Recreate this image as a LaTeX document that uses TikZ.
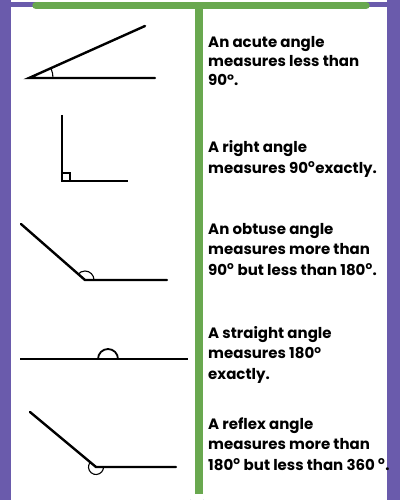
\documentclass[tikz,border=0pt]{standalone}
\usepackage{fontspec}
\setmainfont{Poppins}
\definecolor{purp}{HTML}{6A5BAC}
\definecolor{grn}{HTML}{69A84F}
\newcommand\sdeg{\textsuperscript{o}}
\begin{document}
\begin{tikzpicture}[x=1pt,y=-1pt,
  ray/.style={line width=2.4pt,line cap=round},
  thinray/.style={line width=1.8pt},
  anglemark/.style={line width=1.1pt},
  desc/.style={anchor=base west,align=left,inner sep=0pt,
    font=\bfseries\fontsize{15}{20.5}\selectfont}]
\useasboundingbox (0,0) rectangle (400,500);
\fill[white] (0,0) rectangle (400,500);
% frame
\fill[purp] (0,0) rectangle (11,500);
\fill[purp] (387,0) rectangle (400,500);
\fill[purp] (11,2.5) rectangle (387,7);
\draw[grn,line width=7.5pt,line cap=round] (36,5.5) -- (366,5.5);
\fill[grn] (195,5) rectangle (203,494);
\draw[purp,line width=1.5pt] (190,500) arc[start angle=180,end angle=0,x radius=7,y radius=4];
% acute
\coordinate (a0) at (29,78);
\coordinate (a1) at (155,78);
\coordinate (a2) at (145,26);
\draw[ray] (a1) -- (a0) -- (a2);
\draw[anglemark] ([xshift=24pt]a0) arc[start angle=0,end angle=-22.5,radius=24];
% right
\coordinate (r0) at (62,181);
\coordinate (r1) at (128,181);
\coordinate (r2) at (62,115);
\draw[thinray] (r2) -- (r0) -- (r1);
\draw[anglemark] (r0) ++(0,-8) -- ++(8,0) -- ++(0,8);
% obtuse
\coordinate (o0) at (85,280);
\coordinate (o1) at (167,280);
\coordinate (o2) at (21,224);
\draw[ray] (o1) -- (o0) -- (o2);
\draw[anglemark] ([xshift=9pt]o0) arc[start angle=0,end angle=-142,radius=9];
% straight
\coordinate (s1) at (20,359);
\coordinate (s2) at (188,359);
\coordinate (s0) at (108,359);
\draw[thinray] (s1) -- (s2);
\draw[thinray] ([xshift=10pt]s0) arc[start angle=0,end angle=-180,radius=10];
% reflex
\coordinate (f0) at (96,467);
\coordinate (f1) at (176,467);
\coordinate (f2) at (30,412);
\draw[ray] (f1) -- (f0) -- (f2);
\draw[anglemark] (f0) ++(-140:7.5) arc[start angle=-140,end angle=-360,radius=7.5];
% texts (anchor = baseline of last line)
\node[desc,font=\bfseries\fontsize{15}{19}\selectfont] (t1) at (208,86) {An acute angle\\measures less than\\90°.};
\node[desc] (t2) at (208,173) {A right angle\\measures 90\sdeg exactly.};
\node[desc] (t3) at (208,275) {An obtuse angle\\measures more than\\90\sdeg{} but less than 180\sdeg.};
\node[desc] (t4) at (208,379) {A straight angle\\measures 180\sdeg\\exactly.};
\node[desc] (t5) at (208,470) {A reflex angle\\measures more than\\180\sdeg{} but less than 360 \sdeg.};
\end{tikzpicture}
\end{document}
